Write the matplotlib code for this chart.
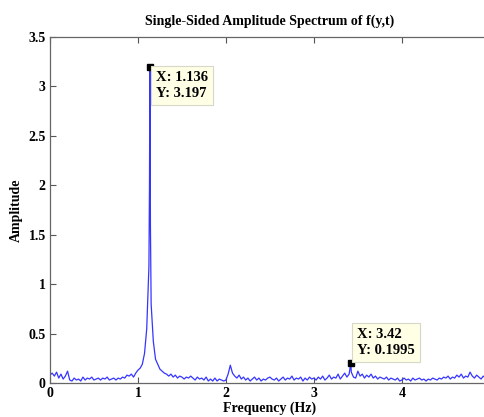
import numpy as np
import matplotlib
matplotlib.use("Agg")
import matplotlib.pyplot as plt

amp_0 = [0.08, 0.10, 0.07, 0.11, 0.05, 0.09, 0.04, 0.07, 0.12, 0.03,
         0.02, 0.05, 0.03, 0.04, 0.02, 0.06, 0.03, 0.05, 0.04, 0.06,
         0.03, 0.04, 0.05, 0.03, 0.05, 0.04, 0.06, 0.03, 0.04, 0.05,
         0.03, 0.05, 0.04, 0.06, 0.05, 0.08, 0.07, 0.09, 0.06, 0.10]
amp_1 = [0.13, 0.15, 0.19, 0.30, 0.55, 1.18, 0.80, 0.42, 0.24, 0.19,
         0.14, 0.12, 0.10, 0.09, 0.07, 0.09, 0.06, 0.08, 0.05, 0.07,
         0.06, 0.04, 0.06, 0.05, 0.07, 0.05, 0.03, 0.06, 0.04, 0.05,
         0.03, 0.06, 0.02, 0.04, 0.02, 0.05, 0.02, 0.04, 0.03, 0.02]
amp_2 = [0.03, 0.09, 0.18, 0.10, 0.07, 0.05, 0.08, 0.04, 0.06, 0.03,
         0.05, 0.02, 0.04, 0.06, 0.03, 0.05, 0.02, 0.04, 0.03, 0.05,
         0.06, 0.04, 0.03, 0.05, 0.02, 0.04, 0.06, 0.03, 0.05, 0.04,
         0.07, 0.03, 0.05, 0.04, 0.06, 0.02, 0.05, 0.03, 0.06, 0.04]
amp_3 = [0.05, 0.03, 0.06, 0.04, 0.07, 0.03, 0.05, 0.08, 0.04, 0.06,
         0.05, 0.09, 0.04, 0.07, 0.10, 0.06, 0.09, 0.11, 0.06, 0.05,
         0.12, 0.07, 0.09, 0.05, 0.08, 0.06, 0.09, 0.05, 0.07, 0.04,
         0.06, 0.05, 0.04, 0.06, 0.03, 0.05, 0.04, 0.03, 0.05, 0.02]
amp_4 = [0.03, 0.05, 0.03, 0.04, 0.02, 0.05, 0.03, 0.04, 0.05, 0.03,
         0.04, 0.02, 0.04, 0.03, 0.05, 0.04, 0.03, 0.05, 0.04, 0.06,
         0.05, 0.07, 0.04, 0.06, 0.05, 0.08, 0.06, 0.09, 0.05, 0.07,
         0.06, 0.11, 0.07, 0.05, 0.08, 0.06, 0.04, 0.07, 0.05, 0.06]

# extra points around the sharp peaks
peak_freq = [1.131, 1.136, 1.142, 3.42]
peak_amp = [1.97, 3.197, 1.60, 0.1995]

# data tips shown on the chart
tip_x = [1.136, 3.42]
tip_y = [3.197, 0.1995]
tip_labels = ["X: 1.136\nY: 3.197", "X: 3.42\nY: 0.1995"]

grid_amp = amp_0 + amp_1 + amp_2 + amp_3 + amp_4
grid_freq = np.arange(len(grid_amp)) * 0.025
freq = np.concatenate([grid_freq, peak_freq])
amp = np.concatenate([grid_amp, peak_amp])
order = np.argsort(freq)
freq, amp = freq[order], amp[order]

plt.rcParams["font.family"] = ["Liberation Serif", "DejaVu Serif"]
plt.rcParams["font.weight"] = "bold"

fig = plt.figure(figsize=(4.85, 4.17), dpi=100)
ax = fig.add_axes([0.103, 0.0815, 0.907, 0.83])
ax.plot(freq, amp, color="#3535ff", linewidth=0.9)

ax.set_xlim(0, 5)
ax.set_ylim(0, 3.5)
ax.set_xticks([0, 1, 2, 3, 4])
ax.set_yticks([0, 0.5, 1, 1.5, 2, 2.5, 3, 3.5])
ax.set_yticklabels(["0", "0.5", "1", "1.5", "2", "2.5", "3", "3.5"])
ax.tick_params(direction="in", top=True, right=True, length=4,
               color="#555555", labelsize=10, pad=3)
for s in ax.spines.values():
    s.set_color("#666666")
    s.set_linewidth(0.9)

ax.set_title("Single-Sided Amplitude Spectrum of f(y,t)", fontsize=10,
             fontweight="bold", pad=9)
ax.set_xlabel("Frequency (Hz)", fontsize=10, fontweight="bold", labelpad=1)
ax.set_ylabel("Amplitude", fontsize=10, fontweight="bold", labelpad=4)

# data tips
offsets = [(6, -4), (6, 6)]
valign = ["top", "bottom"]
for x, y, lab, off, va in zip(tip_x, tip_y, tip_labels, offsets, valign):
    ax.plot([x], [y], marker="s", color="black", markersize=4.5, zorder=5)
    ax.annotate(lab, xy=(x, y), xytext=off, textcoords="offset pixels",
                ha="left", va=va, fontsize=10.5, fontweight="bold",
                linespacing=1.3,
                bbox=dict(boxstyle="square,pad=0.35", facecolor="#ffffe6",
                          edgecolor="#d8d8c8", linewidth=0.8),
                zorder=6)

fig.savefig("out.png", dpi=100)
